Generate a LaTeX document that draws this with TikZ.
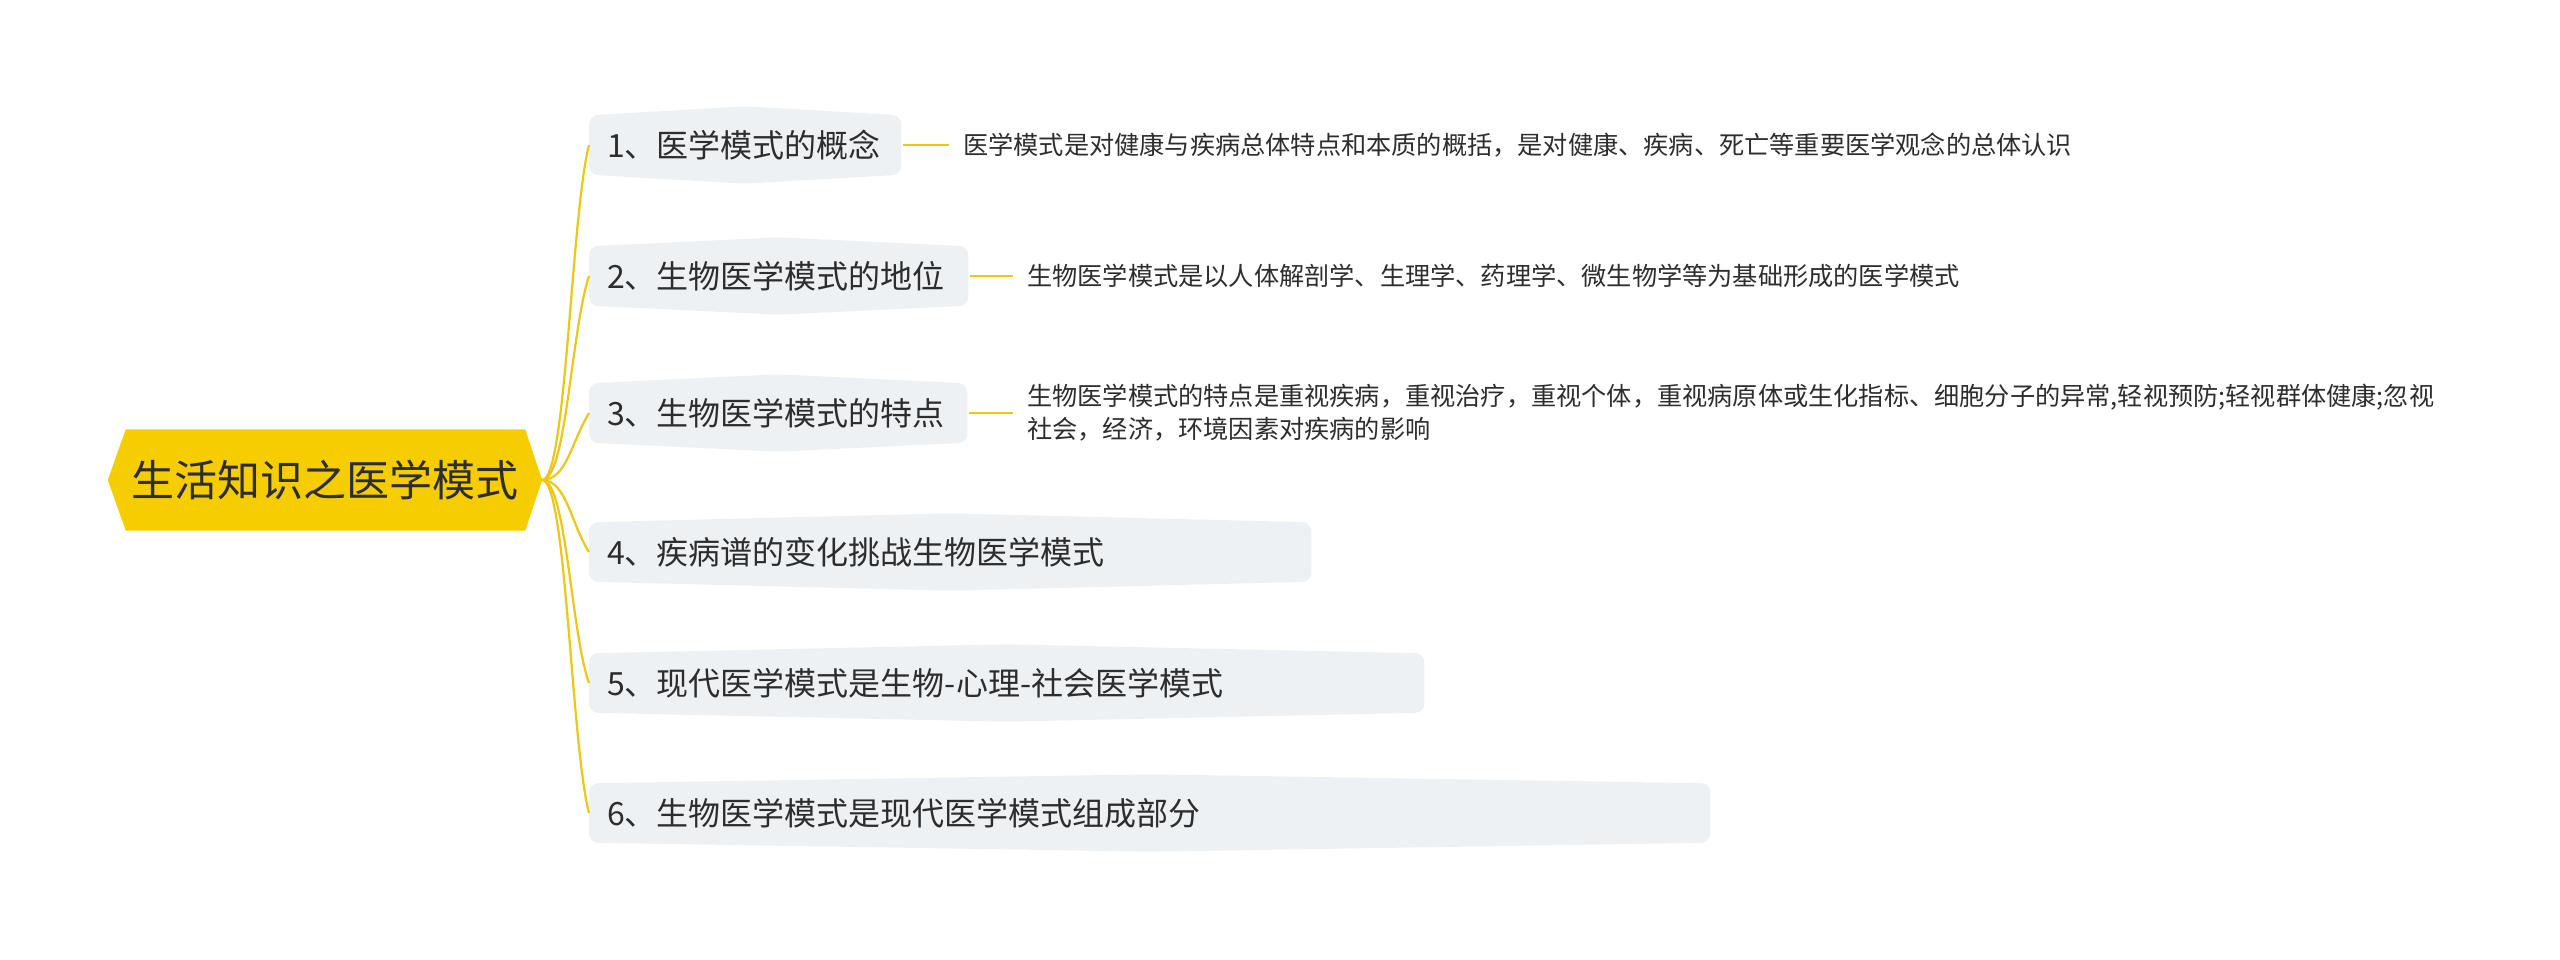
\documentclass[tikz,border=0pt]{standalone}
\usepackage{fontspec}
\setmainfont{Noto Sans CJK SC}
\usetikzlibrary{backgrounds}
\definecolor{rootfill}{RGB}{246,205,0}
\definecolor{lineyellow}{RGB}{238,198,20}
\definecolor{boxfill}{RGB}{238,241,244}
\definecolor{txt}{RGB}{45,45,45}
\begin{document}
\begin{tikzpicture}[x=1pt,y=-1pt,
  conn/.style={draw=lineyellow, line width=2.2pt},
  branch/.style={anchor=west, minimum height=59pt, inner xsep=18pt, inner ysep=0pt,
    font=\fontsize{32}{38}\selectfont, text=txt, align=left},
  leaf/.style={anchor=west, inner xsep=14pt, inner ysep=2pt,
    font=\fontsize{25.2}{33}\selectfont, text=txt, align=left},
  bshape/.style={fill=boxfill, rounded corners=9pt},
]
\useasboundingbox (0,0) rectangle (2560,959);

% root
\node[minimum width=434pt, minimum height=101pt, inner sep=0pt,
  font=\fontsize{43}{50}\selectfont, text=txt] (root) at (325,480) {生活知识之医学模式};

% branches
\node[branch, text width=276pt] (b1) at (589,145) {1、医学模式的概念};
\node[branch, text width=343pt] (b2) at (589,276) {2、生物医学模式的地位};
\node[branch, text width=342pt] (b3) at (589,413) {3、生物医学模式的特点};
\node[branch, text width=686pt] (b4) at (589,552) {4、疾病谱的变化挑战生物医学模式};
\node[branch, text width=799pt] (b5) at (589,683) {5、现代医学模式是生物-心理-社会医学模式};
\node[branch, text width=1085pt] (b6) at (589,813) {6、生物医学模式是现代医学模式组成部分};

% leaves
\node[leaf] (l1) at (949,145) {医学模式是对健康与疾病总体特点和本质的概括，是对健康、疾病、死亡等重要医学观念的总体认识};
\node[leaf] (l2) at (1013,276) {生物医学模式是以人体解剖学、生理学、药理学、微生物学等为基础形成的医学模式};
\node[leaf] (l3) at (1013,413) {生物医学模式的特点是重视疾病，重视治疗，重视个体，重视病原体或生化指标、细胞分子的异常,轻视预防;轻视群体健康;忽视\\社会，经济，环境因素对疾病的影响};

\begin{pgfonlayer}{background}
  \fill[rootfill] (root.west) -- ([xshift=18pt]root.north west) -- ([xshift=-17pt]root.north east)
    -- (root.east) -- ([xshift=-17pt]root.south east) -- ([xshift=18pt]root.south west) -- cycle;
  \foreach \b in {b1,b2,b3,b4,b5,b6}{
    \fill[bshape] (\b.north west) -- ([yshift=9pt]\b.north) -- (\b.north east)
      -- (\b.south east) -- ([yshift=-9pt]\b.south) -- (\b.south west) -- cycle;
  }
\end{pgfonlayer}

% connectors root -> branches
\foreach \b/\d in {b1/-70,b2/-55,b3/-30,b4/28,b5/50,b6/70}{
  \draw[conn] (root.east) .. controls ([xshift=24pt]root.east) and ([xshift=-18pt,yshift=\d pt]\b.west) .. (\b.west);
}
% connectors branch -> leaf
\draw[conn] ([xshift=2pt]b1.east) -- (l1.west);
\draw[conn] ([xshift=2pt]b2.east) -- (l2.west);
\draw[conn] ([xshift=2pt]b3.east) -- (l3.west);
\end{tikzpicture}
\end{document}
